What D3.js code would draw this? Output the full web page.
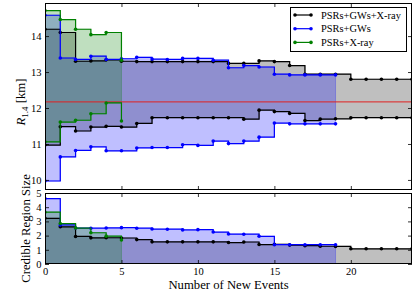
<!DOCTYPE html>
<html>
<head>
<meta charset="utf-8">
<script src="https://cdn.jsdelivr.net/npm/d3@7/dist/d3.min.js"></script>
<style>
  body { margin: 0; background: #fff; }
  svg { display: block; }
  text { font-family: "Liberation Serif", "Times New Roman", serif; fill: #000; }
</style>
</head>
<body>
<svg id="chart" width="415" height="294"></svg>
<script>
// credible interval bounds on R_1.4 (km), one value per number of new events (0, 1, 2, ...)
const blackUpper = [14.19, 14.10, 13.30, 13.31, 13.34, 13.30, 13.29, 13.29, 13.29, 13.29, 13.29, 13.29, 13.24,
                    13.24, 13.31, 13.29, 13.18, 12.94, 12.94, 12.94, 12.80, 12.80, 12.80, 12.80, 12.80];
const blackLower = [10.97, 11.48, 11.36, 11.47, 11.49, 11.47, 11.57, 11.73, 11.73, 11.73, 11.73, 11.73, 11.73,
                    11.69, 11.94, 11.90, 11.85, 11.65, 11.69, 11.70, 11.73, 11.73, 11.73, 11.73, 11.73];
const blueUpper = [14.58, 13.39, 13.35, 13.44, 13.35, 13.37, 13.41, 13.36, 13.35, 13.38, 13.38, 13.33, 13.12,
                   13.18, 13.14, 12.94, 12.92, 12.92, 12.92, 12.92];
const blueLower = [9.97, 10.64, 10.82, 10.92, 10.81, 10.81, 10.89, 10.90, 10.90, 10.98, 10.96, 11.08, 11.01,
                   11.08, 11.19, 11.58, 11.56, 11.56, 11.56, 11.56];
const greenUpper = [14.71, 14.46, 14.19, 14.04, 14.10, 13.33];
const greenLower = [11.06, 11.61, 11.66, 11.84, 12.14, 11.64];
const trueRadius = 12.17;

const seriesNames = ["PSRs+GWs+X-ray", "PSRs+GWs", "PSRs+X-ray"];
const seriesColors = ["#000000", "#0000ff", "#008000"];

const xTicks = [0, 5, 10, 15, 20];
const yTopTicks = [10, 11, 12, 13, 14];
const yBotTicks = [0, 1, 2, 3, 4, 5];

const series = seriesNames.map((name, k) => {
    const up = [blackUpper, blueUpper, greenUpper][k];
    const lo = [blackLower, blueLower, greenLower][k];
    return {
        name, color: seriesColors[k],
        pts: up.map((u, i) => ({ n: i, up: u, lo: lo[i], size: u - lo[i] }))
    };
});

const svg = d3.select("#chart");
const left = 45, right = 412;
const x = d3.scaleLinear().domain([0, 24]).range([left, right]);
const yTop = d3.scaleLinear().domain([9.72, 14.92]).range([190, 3]);
const yBot = d3.scaleLinear().domain([0, 5]).range([264, 193]);

svg.append("defs").selectAll("clipPath")
    .data([["clipTop", yTop], ["clipBot", yBot]])
    .enter().append("clipPath").attr("id", d => d[0])
    .append("rect")
    .attr("x", left).attr("width", right - left)
    .attr("y", d => d[1].range()[1]).attr("height", d => d[1].range()[0] - d[1].range()[1]);

function panel(y, clipId, hiFn, loFn) {
    const g = svg.append("g").attr("clip-path", `url(#${clipId})`);
    const area = d3.area().curve(d3.curveStepAfter)
        .x(d => x(d.n)).y0(d => y(loFn(d))).y1(d => y(hiFn(d)));
    // fills first, in plotting order
    g.selectAll(".band")
        .data(series)
        .enter().append("path")
        .attr("d", s => area(s.pts))
        .attr("fill", s => s.color)
        .attr("fill-opacity", 0.25)
        .attr("stroke", s => s.color)
        .attr("stroke-opacity", 0.25)
        .attr("stroke-width", 1);
    return g;
}

function drawLines(g, y, accessors) {
    const line = d3.line().curve(d3.curveStepAfter);
    series.forEach(s => {
        accessors.forEach(acc => {
            g.append("path")
                .attr("d", line.x(d => x(d.n)).y(d => y(acc(d)))(s.pts))
                .attr("fill", "none")
                .attr("stroke", s.color)
                .attr("stroke-width", 1.2);
            g.selectAll(null)
                .data(s.pts)
                .enter().append("circle")
                .attr("cx", d => x(d.n))
                .attr("cy", d => y(acc(d)))
                .attr("r", 1.8)
                .attr("fill", s.color);
        });
    });
}

// top panel
const gTop = panel(yTop, "clipTop", d => d.up, d => d.lo);
gTop.append("line")
    .attr("x1", left).attr("x2", right)
    .attr("y1", yTop(trueRadius)).attr("y2", yTop(trueRadius))
    .attr("stroke", "#e02020").attr("stroke-width", 1);
drawLines(gTop, yTop, [d => d.up, d => d.lo]);

// bottom panel: width of the credible region
const gBot = panel(yBot, "clipBot", d => d.size, d => 0);
drawLines(gBot, yBot, [d => d.size]);

// axes with inward ticks on every side
function frame(y, tickVals, labelPad) {
    const [y0, y1] = y.range();
    const style = a => a.call(g => g.select(".domain").remove())
        .call(g => g.selectAll("line").attr("stroke", "#000").attr("stroke-width", 0.8));
    svg.append("g").attr("transform", `translate(0,${y0})`)
        .call(d3.axisBottom(x).tickValues(xTicks).tickSize(-4).tickFormat(""))
        .call(style);
    svg.append("g").attr("transform", `translate(0,${y1})`)
        .call(d3.axisTop(x).tickValues(xTicks).tickSize(-4).tickFormat(""))
        .call(style);
    svg.append("g").attr("transform", `translate(${left},0)`)
        .call(d3.axisLeft(y).tickValues(tickVals).tickSize(-4).tickPadding(labelPad).tickFormat(d3.format("d")))
        .call(style)
        .call(g => g.selectAll("text").style("font-size", "10.5px").style("font-family", null));
    svg.append("g").attr("transform", `translate(${right},0)`)
        .call(d3.axisRight(y).tickValues(tickVals).tickSize(-4).tickFormat(""))
        .call(style);
    svg.append("rect")
        .attr("x", left + 0.5).attr("y", y1 + 0.5)
        .attr("width", right - left - 1).attr("height", y0 - y1 - 1)
        .attr("fill", "none").attr("stroke", "#000").attr("stroke-width", 1);
}
frame(yTop, yTopTicks, 3.5);
frame(yBot, yBotTicks, 3.5);

svg.append("g").attr("transform", `translate(0,${yBot.range()[0]})`)
    .call(d3.axisBottom(x).tickValues(xTicks).tickSize(0).tickPadding(4).tickFormat(d3.format("d")))
    .call(g => g.select(".domain").remove())
    .call(g => g.selectAll("text").style("font-size", "10.5px").style("font-family", null));

// axis titles
svg.append("text")
    .attr("x", (left + right) / 2).attr("y", 289)
    .attr("text-anchor", "middle").style("font-size", "12.7px")
    .text("Number of New Events");

svg.append("text")
    .attr("transform", `translate(30,${(yBot.range()[0] + yBot.range()[1]) / 2}) rotate(-90)`)
    .attr("text-anchor", "middle").style("font-size", "12.7px")
    .text("Credible Region Size");

const rLabel = svg.append("text")
    .attr("transform", `translate(25,102) rotate(-90)`)
    .attr("text-anchor", "middle").style("font-size", "12.7px");
rLabel.append("tspan").style("font-style", "italic").text("R");
rLabel.append("tspan").attr("dy", 3).style("font-size", "9px").text("1.4");
rLabel.append("tspan").attr("dy", -3).text(" [km]");

// legend
const legend = svg.append("g").attr("transform", "translate(290,7)");
legend.append("rect")
    .attr("x", 0.5).attr("y", 0.5).attr("width", 116).attr("height", 44)
    .attr("fill", "#fff").attr("stroke", "#000").attr("stroke-width", 1);
const item = legend.selectAll(".item")
    .data(series)
    .enter().append("g")
    .attr("transform", (d, i) => `translate(0,${8 + i * 13.7})`);
item.append("line")
    .attr("x1", 5).attr("x2", 21)
    .attr("stroke", d => d.color).attr("stroke-width", 1.2);
item.selectAll("circle")
    .data(d => [5, 21].map(cx => ({ cx, color: d.color })))
    .enter().append("circle")
    .attr("cx", d => d.cx).attr("r", 1.8).attr("fill", d => d.color);
item.append("text")
    .attr("x", 31).attr("y", 3.6)
    .style("font-size", "10.4px")
    .text(d => d.name);
</script>
</body>
</html>
